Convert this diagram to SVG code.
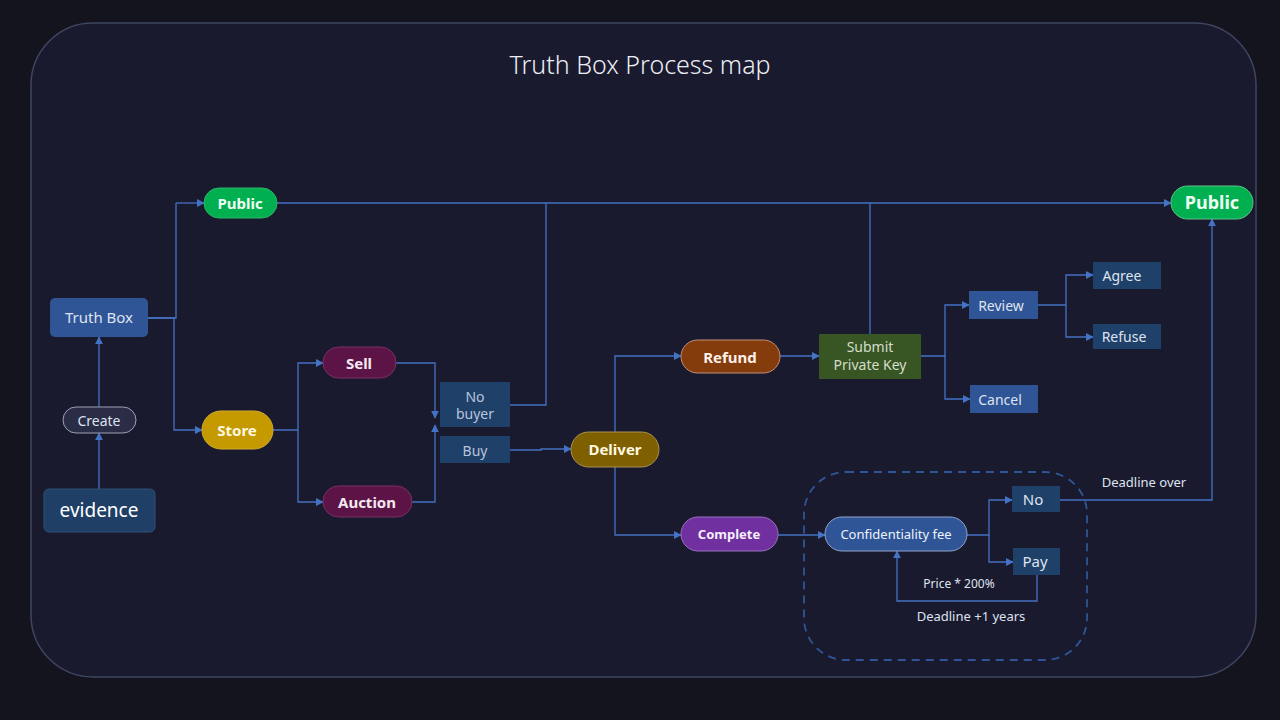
<svg xmlns="http://www.w3.org/2000/svg" width="1280" height="720" viewBox="0 0 1280 720">
<defs>
<marker id="ah" viewBox="0 0 10 10" refX="9" refY="5" markerWidth="8" markerHeight="8" markerUnits="userSpaceOnUse" orient="auto">
<path d="M0,0 L10,5 L0,10 z" fill="#4472c4"/>
</marker>
<style>
.c{fill:none;stroke:#4472c4;stroke-width:1.3}
.ca{fill:none;stroke:#4472c4;stroke-width:1.3;marker-end:url(#ah)}
.t{font-family:"Noto Sans","Open Sans",sans-serif;fill:#dfe3f0;text-anchor:middle;dominant-baseline:central}
.b{font-family:"Noto Sans","Open Sans",sans-serif;fill:#ffffff;font-weight:bold;text-anchor:middle;dominant-baseline:central}
.bx{fill:#1f4068}
.bl{fill:#2f5597}
</style>
</defs>
<rect x="0" y="0" width="1280" height="720" fill="#14141f"/>
<rect x="31" y="23" width="1225" height="654" rx="62" fill="#1a1a2e" stroke="#3e4560" stroke-width="1.5"/>
<text x="640" y="64" class="t" style="font-size:25px;font-weight:300;fill:#eceef5">Truth Box Process map</text>

<g id="connectors">
<path class="c" d="M148,318 H176 V203"/>
<path class="ca" d="M176,203 H204"/>
<path class="ca" d="M148,318 H174 V430 H202"/>
<path class="ca" d="M99,489 V433"/>
<path class="ca" d="M99,407 V337"/>
<path class="ca" d="M277,203 H1171"/>
<path class="ca" d="M273,430 H298 V363 H323"/>
<path class="ca" d="M298,430 V502 H323"/>
<path class="ca" d="M396,363 H435 V418"/>
<path class="ca" d="M412,502 H435 V425"/>
<path class="c" d="M510,405 H546 V203"/>
<path class="ca" d="M510,450 H541 V449 H571"/>
<path class="ca" d="M615,432 V356 H681"/>
<path class="ca" d="M615,467 V535 H681"/>
<path class="ca" d="M780,356 H819"/>
<path class="c" d="M870,334 V203"/>
<path class="ca" d="M921,356 H945 V305 H969"/>
<path class="ca" d="M945,356 V399 H970"/>
<path class="ca" d="M1038,305 H1066 V275 H1093"/>
<path class="ca" d="M1066,305 V337 H1093"/>
<path class="ca" d="M778,535 H825"/>
<path class="ca" d="M967,535 H989 V500 H1012"/>
<path class="ca" d="M989,535 V562 H1013"/>
<path class="ca" d="M1037,575 V601 H897 V551"/>
<path class="ca" d="M1060,500 H1212 V219"/>
</g>

<rect x="804" y="472" width="283" height="188" rx="42" fill="none" stroke="#2f5597" stroke-width="1.8" stroke-dasharray="8,6"/>

<g id="truthbox"><rect x="50" y="298" width="98" height="39" rx="5" class="bl"/><text x="99" y="317" class="t" style="font-size:15px">Truth Box</text></g>
<g id="create"><rect x="63" y="407" width="73" height="26" rx="13" fill="#2a2d45" stroke="#9aa0b5" stroke-width="1"/><text x="99" y="420" class="t" style="font-size:14px">Create</text></g>
<g id="evidence"><rect x="44" y="489" width="111" height="43" rx="5" fill="#1f3f66" stroke="#2e5077" stroke-width="1"/><text x="99" y="510" class="t" style="font-size:19px;fill:#ffffff">evidence</text></g>
<g id="public1"><rect x="204" y="188" width="73" height="30" rx="15" fill="#00b050" stroke="#2bb868" stroke-width="1"/><text x="240" y="203" class="b" style="font-size:15px;fill:#f0fff4">Public</text></g>
<g id="store"><rect x="202" y="411" width="71" height="38" rx="19" fill="#c59a00" stroke="#d4ac30" stroke-width="1"/><text x="237" y="430" class="b" style="font-size:15px;fill:#fff8e0">Store</text></g>
<g id="sell"><rect x="323" y="347" width="73" height="31" rx="15.5" fill="#5c1446" stroke="#7a3066" stroke-width="1"/><text x="359" y="363" class="b" style="font-size:15px;fill:#f5e8f0">Sell</text></g>
<g id="auction"><rect x="323" y="486" width="89" height="31" rx="15.5" fill="#5c1446" stroke="#7a3066" stroke-width="1"/><text x="367" y="502" class="b" style="font-size:15px;fill:#f5e8f0">Auction</text></g>
<g id="nobuyer"><rect x="440" y="382" width="70" height="45" class="bx"/><text x="475" y="396" class="t" style="font-size:14px;fill:#b8c4dc">No</text><text x="475" y="413" class="t" style="font-size:14px;fill:#b8c4dc">buyer</text></g>
<g id="buy"><rect x="440" y="436" width="70" height="27" class="bx"/><text x="475" y="450" class="t" style="font-size:14px;fill:#b8c4dc">Buy</text></g>
<g id="deliver"><rect x="571" y="432" width="88" height="35" rx="17.5" fill="#7f6000" stroke="#a89050" stroke-width="1"/><text x="615" y="449" class="b" style="font-size:15px;fill:#fff8e0">Deliver</text></g>
<g id="refund"><rect x="681" y="340" width="99" height="33" rx="16.5" fill="#843c0c" stroke="#c0907a" stroke-width="1"/><text x="730" y="357" class="b" style="font-size:15px;fill:#fff0e8">Refund</text></g>
<g id="submit"><rect x="819" y="334" width="102" height="45" fill="#375623"/><text x="870" y="346" class="t" style="font-size:14px;fill:#d5dccc">Submit</text><text x="870" y="364" class="t" style="font-size:14px;fill:#d5dccc">Private Key</text></g>
<g id="review"><rect x="969" y="291" width="69" height="28" class="bl"/><text x="1001" y="305" class="t" style="font-size:14px">Review</text></g>
<g id="cancel"><rect x="970" y="385" width="68" height="28" class="bl"/><text x="1000" y="399" class="t" style="font-size:14px">Cancel</text></g>
<g id="agree"><rect x="1093" y="262" width="68" height="27" class="bx"/><text x="1122" y="275" class="t" style="font-size:14px">Agree</text></g>
<g id="refuse"><rect x="1093" y="324" width="68" height="25" class="bx"/><text x="1124" y="336" class="t" style="font-size:14px">Refuse</text></g>
<g id="public2"><rect x="1171" y="186" width="82" height="33" rx="16.5" fill="#00b050" stroke="#5cc488" stroke-width="1"/><text x="1212" y="202" class="b" style="font-size:18px;fill:#f0fff4">Public</text></g>
<g id="complete"><rect x="681" y="517" width="97" height="34" rx="17" fill="#7030a0" stroke="#9a70c0" stroke-width="1"/><text x="729" y="534" class="b" style="font-size:13px;fill:#f5eefc">Complete</text></g>
<g id="conf"><rect x="825" y="517" width="142" height="34" rx="17" fill="#2f5597" stroke="#8fa5d0" stroke-width="1"/><text x="896" y="534" class="t" style="font-size:13px;fill:#eef2fa">Confidentiality fee</text></g>
<g id="no"><rect x="1012" y="486" width="48" height="26" class="bx"/><text x="1033" y="499" class="t" style="font-size:15px">No</text></g>
<g id="pay"><rect x="1013" y="548" width="47" height="27" class="bx"/><text x="1035" y="561" class="t" style="font-size:15px">Pay</text></g>
<g id="labels">
<text x="1144" y="482" class="t" style="font-size:13px">Deadline over</text>
<text x="959" y="583" class="t" style="font-size:12px">Price * 200%</text>
<text x="971" y="616" class="t" style="font-size:13px">Deadline +1 years</text>
</g>
</svg>
